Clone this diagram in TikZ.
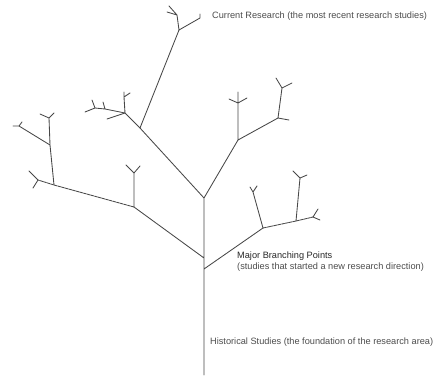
\documentclass[tikz,border=0pt]{standalone}
\usepackage{fontspec}
\setmainfont{Liberation Sans}
\usepackage{tikz}
\usetikzlibrary{positioning}

\tikzset{
  twig/.style={line width=0.85pt,draw=black!72,line cap=round},
  gapped/.style={twig,dash pattern=on 3pt off 0.8pt},
  note/.style={anchor=west,inner sep=0pt,text=black!70,font=\fontsize{9.2}{11}\selectfont}
}

\begin{document}
\begin{tikzpicture}[x=1pt,y=-1pt]
\useasboundingbox (0,0) rectangle (436,375);

% trunk
\coordinate (t0) at (204,375);
\coordinate (t1) at (204,258);
\coordinate (t2) at (204,269);
\coordinate (t3) at (204,198);

% lower left limb
\coordinate (a1) at (134,207);
\coordinate (a2) at (54,185);
\coordinate (a3) at (38,180);
\coordinate (a4) at (50,145);
\coordinate (a5) at (49,118);
\coordinate (a6) at (19,126);
\coordinate (a7) at (134,173);

% upper left limb
\coordinate (b1) at (140,128);
\coordinate (b2) at (125,113);
\coordinate (b3) at (124,97);
\coordinate (b4) at (105,109);
\coordinate (b5) at (95,108);

% current research
\coordinate (c1) at (179,30);
\coordinate (c2) at (177,15);
\coordinate (c3) at (200,18);

% upper right limb
\coordinate (d1) at (238,140);
\coordinate (d2) at (238,103);
\coordinate (d3) at (278,118);
\coordinate (d4) at (282,88);

% lower right limb
\coordinate (e1) at (263,228);
\coordinate (e2) at (296,221);
\coordinate (e3) at (313,217);
\coordinate (e4) at (253,192);
\coordinate (e5) at (300,178);

\draw[twig] (t0) -- (t3)
(t1) -- (a1)
(t2) -- (e1)
(t3) -- (b1) -- (b2)
(t3) -- (d1);
\draw[gapped] (a1) -- (a2) -- (a3);
\draw[gapped] (e1) -- (e2) -- (e3);
\draw[twig] (a3) -- (29,171) (a3) -- (33,188)
(a2) -- (a4) -- (a5)
(a5) -- (40,114) (a5) -- (54,113)
(a4) -- (a6)
(a6) -- (13,126) (a6) -- (22,122)
(a1) -- (a7)
(a7) -- (126,165) (a7) -- (140,166);
\draw[twig] (b1) -- (c1)
(b2) -- (b3) -- (124,92) (b3) -- (130,93)
(b2) -- (b4) -- (b5)
(b4) -- (103,102)
(b5) -- (92,100) (b5) -- (85,112)
(b2) -- (107,119);
\draw[twig] (c1) -- (c2)
(c2) -- (167,12) (c2) -- (169,6)
(c1) -- (c3) -- (200,14);
\draw[twig] (d1) -- (d2) -- (238,92)
(d2) -- (229,99) (d2) -- (247,98)
(d1) -- (d3) -- (289,120)
(d3) -- (d4)
(d4) -- (276,78) (d4) -- (292,83);
\draw[twig] (e1) -- (e4)
(e4) -- (250,187) (e4) -- (257,186)
(e2) -- (e5)
(e5) -- (293,171) (e5) -- (307,175)
(e3) -- (318,209) (e3) -- (320,220);

% labels
\node[note] (current) at (212,16) {Current Research (the most recent research studies)};
\node[note,text=black!85] (major) at (237,256) {Major Branching Points};
\node[note] (majorsub) at (237,267) {(studies that started a new research direction)};
\node[note] (historic) at (210,342) {Historical Studies (the foundation of the research area)};
\end{tikzpicture}
\end{document}
